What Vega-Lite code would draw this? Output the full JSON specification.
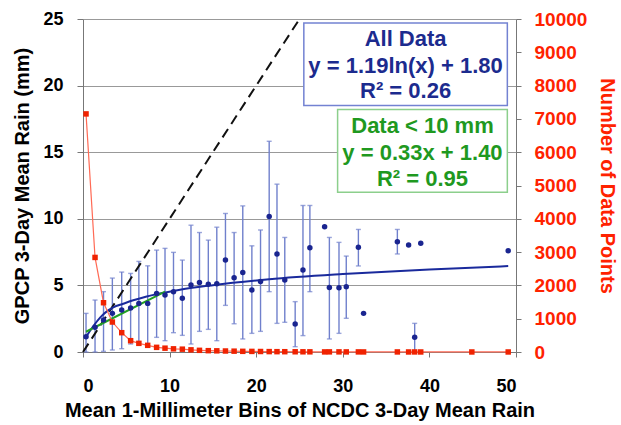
{
  "$schema": "https://vega.github.io/schema/vega-lite/v6.json",
  "width": 433,
  "height": 333,
  "autosize": "none",
  "padding": {"left": 83, "top": 19, "right": 105, "bottom": 73},
  "background": "white",
  "config": {
    "font": "Liberation Sans",
    "view": {"stroke": null},
    "axis": {"labelFontWeight": "bold", "titleFontWeight": "bold", "labelColor": "#000", "titleColor": "#000", "domainColor": "#777", "tickColor": "#777", "labelFont": "Liberation Sans", "titleFont": "Liberation Sans"}
  },
  "datasets": {
    "main": [
      {"x": 0.35, "mean": 1.15, "lo": 0, "hi": 2.9},
      {"x": 1.39, "mean": 1.85, "lo": 0, "hi": 3.9},
      {"x": 2.37, "mean": 2.4, "lo": 0.05, "hi": 4.53},
      {"x": 3.39, "mean": 2.9, "lo": 0.15, "hi": 5.55},
      {"x": 4.47, "mean": 3.15, "lo": 0.25, "hi": 6.0},
      {"x": 5.5, "mean": 3.3, "lo": 0.6, "hi": 5.9},
      {"x": 6.45, "mean": 3.65, "lo": 0.75, "hi": 6.8},
      {"x": 7.47, "mean": 3.65, "lo": 0.45, "hi": 6.47},
      {"x": 8.5, "mean": 4.4, "lo": 1.1, "hi": 7.65},
      {"x": 9.47, "mean": 4.28, "lo": 0.85, "hi": 7.78},
      {"x": 10.45, "mean": 4.53, "lo": 1.45, "hi": 7.48},
      {"x": 11.47, "mean": 4.03, "lo": 1.25, "hi": 6.9},
      {"x": 12.47, "mean": 5.03, "lo": 0.6, "hi": 9.52},
      {"x": 13.45, "mean": 5.22, "lo": 1.55, "hi": 8.97},
      {"x": 14.47, "mean": 5.08, "lo": 1.7, "hi": 8.4},
      {"x": 15.45, "mean": 5.13, "lo": 0.85, "hi": 9.37},
      {"x": 16.45, "mean": 6.9, "lo": 3.5, "hi": 10.4},
      {"x": 17.45, "mean": 5.58, "lo": 2.12, "hi": 8.97},
      {"x": 18.45, "mean": 5.97, "lo": 0.98, "hi": 10.97},
      {"x": 19.5, "mean": 4.65, "lo": 1.4, "hi": 7.97},
      {"x": 20.5, "mean": 5.3, "lo": 1.55, "hi": 9.16},
      {"x": 21.5, "mean": 10.18, "lo": 4.53, "hi": 15.82},
      {"x": 22.4, "mean": 7.36, "lo": 2.15, "hi": 12.6},
      {"x": 23.3, "mean": 5.4, "lo": 2.23, "hi": 8.6},
      {"x": 24.5, "mean": 2.1, "lo": 0.4, "hi": 3.78},
      {"x": 25.4, "mean": 6.15, "lo": 1.23, "hi": 11.0},
      {"x": 26.2, "mean": 7.83, "lo": 4.53, "hi": 11.0},
      {"x": 27.9, "mean": 9.4, "lo": null, "hi": null},
      {"x": 28.45, "mean": 4.85, "lo": 0.98, "hi": 8.6},
      {"x": 29.56, "mean": 4.83, "lo": 1.4, "hi": 8.23},
      {"x": 30.4, "mean": 4.9, "lo": 2.53, "hi": 7.2},
      {"x": 31.8, "mean": 7.86, "lo": 6.46, "hi": 9.2},
      {"x": 32.4, "mean": 2.9, "lo": null, "hi": null},
      {"x": 36.3, "mean": 8.28, "lo": 7.36, "hi": 9.2},
      {"x": 37.6, "mean": 8.03, "lo": null, "hi": null},
      {"x": 38.3, "mean": 1.1, "lo": 0, "hi": 2.15},
      {"x": 39.0, "mean": 8.16, "lo": null, "hi": null},
      {"x": 49.1, "mean": 7.6, "lo": null, "hi": null}
    ],
    "count": [
      {"x": 0.35, "n": 7150}, {"x": 1.39, "n": 2840}, {"x": 2.37, "n": 1480}, {"x": 3.39, "n": 900},
      {"x": 4.47, "n": 580}, {"x": 5.5, "n": 340}, {"x": 6.45, "n": 260}, {"x": 7.47, "n": 200},
      {"x": 8.5, "n": 140}, {"x": 9.47, "n": 115}, {"x": 10.45, "n": 95}, {"x": 11.47, "n": 85},
      {"x": 12.47, "n": 65}, {"x": 13.45, "n": 50}, {"x": 14.47, "n": 40}, {"x": 15.45, "n": 35},
      {"x": 16.45, "n": 30}, {"x": 17.45, "n": 25}, {"x": 18.45, "n": 20}, {"x": 19.5, "n": 18},
      {"x": 20.5, "n": 15}, {"x": 21.5, "n": 12}, {"x": 22.4, "n": 10}, {"x": 23.3, "n": 9},
      {"x": 24.5, "n": 7}, {"x": 25.4, "n": 6}, {"x": 26.2, "n": 5}, {"x": 27.9, "n": 3},
      {"x": 28.45, "n": 4}, {"x": 29.56, "n": 4}, {"x": 30.4, "n": 3}, {"x": 31.8, "n": 3},
      {"x": 32.4, "n": 2}, {"x": 36.3, "n": 2}, {"x": 37.6, "n": 1}, {"x": 38.3, "n": 2},
      {"x": 39.0, "n": 1}, {"x": 44.9, "n": 1}, {"x": 49.1, "n": 1}
    ],
    "fit": [
      {"x": 0.42, "y": 1.2}, {"x": 1.2, "y": 1.95}, {"x": 2.0, "y": 2.6}, {"x": 2.75, "y": 3.05},
      {"x": 3.5, "y": 3.35}, {"x": 4.65, "y": 3.62}, {"x": 5.8, "y": 3.88}, {"x": 7.35, "y": 4.17},
      {"x": 8.9, "y": 4.4}, {"x": 11.2, "y": 4.68}, {"x": 15.0, "y": 5.02}, {"x": 21.5, "y": 5.46},
      {"x": 30.0, "y": 5.85}, {"x": 40.0, "y": 6.2}, {"x": 49.1, "y": 6.45}
    ],
    "lin": [{"x": 0.35, "y": 1.52}, {"x": 9.47, "y": 4.53}],
    "diag": [{"x": 0, "y": 0}, {"x": 25, "y": 25}],
    "boxes": [
      {"x": 25.5, "x2": 49.0, "y": 24.7, "y2": 18.5, "g": "a"},
      {"x": 29.4, "x2": 49.0, "y": 18.2, "y2": 12.0, "g": "b"}
    ],
    "notes": [
      {"x": 37.25, "y": 23.5, "t": "All Data", "g": "a"},
      {"x": 37.25, "y": 21.45, "t": "y = 1.19ln(x) + 1.80", "g": "a"},
      {"x": 37.25, "y": 19.6, "t": "R² = 0.26", "g": "a"},
      {"x": 39.2, "y": 17.0, "t": "Data < 10 mm", "g": "b"},
      {"x": 39.2, "y": 14.95, "t": "y = 0.33x + 1.40", "g": "b"},
      {"x": 39.2, "y": 13.0, "t": "R² = 0.95", "g": "b"}
    ]
  },
  "layer": [
    {
      "layer": [
        {
          "data": {"name": "boxes"},
          "mark": {"type": "rect", "fill": "white", "strokeWidth": 1.5},
          "encoding": {
            "x": {"field": "x", "type": "quantitative", "title": "Mean 1-Millimeter Bins of NCDC 3-Day Mean Rain", "scale": {"domain": [0, 50], "nice": false},
              "axis": {"values": [0, 10, 20, 30, 40, 50], "titleFontSize": 20, "labelFontSize": 18, "tickSize": 5, "labelPadding": 20, "titlePadding": 5, "grid": false}},
            "x2": {"field": "x2"},
            "y": {"field": "y", "type": "quantitative", "title": "GPCP 3-Day Mean Rain (mm)", "scale": {"domain": [0, 25], "nice": false},
              "axis": {"orient": "left", "values": [0, 5, 10, 15, 20, 25], "titleFontSize": 20, "labelFontSize": 18, "tickSize": 6, "labelPadding": 14, "titlePadding": 10, "grid": true, "gridColor": "#999"}},
            "y2": {"field": "y2"},
            "stroke": {"field": "g", "type": "nominal", "scale": {"domain": ["a", "b"], "range": ["#7382d2", "#8ccf8c"]}, "legend": null}
          }
        },
        {
          "data": {"name": "main"},
          "transform": [{"filter": "datum.hi != null"}],
          "mark": {"type": "rule", "color": "#7080cc", "strokeWidth": 1.4},
          "encoding": {
            "x": {"field": "x", "type": "quantitative", "title": "Mean 1-Millimeter Bins of NCDC 3-Day Mean Rain", "scale": {"domain": [0, 50], "nice": false},
              "axis": {"values": [0, 10, 20, 30, 40, 50], "titleFontSize": 20, "labelFontSize": 18, "tickSize": 5, "labelPadding": 20, "titlePadding": 5, "grid": false}},
            "y": {"field": "lo", "type": "quantitative", "title": "GPCP 3-Day Mean Rain (mm)", "scale": {"domain": [0, 25], "nice": false},
              "axis": {"orient": "left", "values": [0, 5, 10, 15, 20, 25], "titleFontSize": 20, "labelFontSize": 18, "tickSize": 6, "labelPadding": 14, "titlePadding": 10, "grid": true, "gridColor": "#999"}},
            "y2": {"field": "hi"}
          }
        },
        {
          "data": {"name": "main"},
          "transform": [{"filter": "datum.hi != null"}],
          "mark": {"type": "tick", "orient": "horizontal", "color": "#7080cc", "size": 5, "thickness": 1.4},
          "encoding": {
            "x": {"field": "x", "type": "quantitative", "title": "Mean 1-Millimeter Bins of NCDC 3-Day Mean Rain", "scale": {"domain": [0, 50], "nice": false},
              "axis": {"values": [0, 10, 20, 30, 40, 50], "titleFontSize": 20, "labelFontSize": 18, "tickSize": 5, "labelPadding": 20, "titlePadding": 5, "grid": false}},
            "y": {"field": "hi", "type": "quantitative", "title": "GPCP 3-Day Mean Rain (mm)", "scale": {"domain": [0, 25], "nice": false},
              "axis": {"orient": "left", "values": [0, 5, 10, 15, 20, 25], "titleFontSize": 20, "labelFontSize": 18, "tickSize": 6, "labelPadding": 14, "titlePadding": 10, "grid": true, "gridColor": "#999"}}
          }
        },
        {
          "data": {"name": "main"},
          "transform": [{"filter": "datum.hi != null"}],
          "mark": {"type": "tick", "orient": "horizontal", "color": "#7080cc", "size": 5, "thickness": 1.4},
          "encoding": {
            "x": {"field": "x", "type": "quantitative", "title": "Mean 1-Millimeter Bins of NCDC 3-Day Mean Rain", "scale": {"domain": [0, 50], "nice": false},
              "axis": {"values": [0, 10, 20, 30, 40, 50], "titleFontSize": 20, "labelFontSize": 18, "tickSize": 5, "labelPadding": 20, "titlePadding": 5, "grid": false}},
            "y": {"field": "lo", "type": "quantitative", "title": "GPCP 3-Day Mean Rain (mm)", "scale": {"domain": [0, 25], "nice": false},
              "axis": {"orient": "left", "values": [0, 5, 10, 15, 20, 25], "titleFontSize": 20, "labelFontSize": 18, "tickSize": 6, "labelPadding": 14, "titlePadding": 10, "grid": true, "gridColor": "#999"}}
          }
        },
        {
          "data": {"name": "diag"},
          "mark": {"type": "line", "color": "#111", "strokeWidth": 2, "strokeDash": [10, 6]},
          "encoding": {
            "x": {"field": "x", "type": "quantitative", "title": "Mean 1-Millimeter Bins of NCDC 3-Day Mean Rain", "scale": {"domain": [0, 50], "nice": false},
              "axis": {"values": [0, 10, 20, 30, 40, 50], "titleFontSize": 20, "labelFontSize": 18, "tickSize": 5, "labelPadding": 20, "titlePadding": 5, "grid": false}},
            "y": {"field": "y", "type": "quantitative", "title": "GPCP 3-Day Mean Rain (mm)", "scale": {"domain": [0, 25], "nice": false},
              "axis": {"orient": "left", "values": [0, 5, 10, 15, 20, 25], "titleFontSize": 20, "labelFontSize": 18, "tickSize": 6, "labelPadding": 14, "titlePadding": 10, "grid": true, "gridColor": "#999"}}
          }
        },
        {
          "data": {"name": "fit"},
          "mark": {"type": "line", "color": "#1a2a9c", "strokeWidth": 2, "interpolate": "monotone"},
          "encoding": {
            "x": {"field": "x", "type": "quantitative", "title": "Mean 1-Millimeter Bins of NCDC 3-Day Mean Rain", "scale": {"domain": [0, 50], "nice": false},
              "axis": {"values": [0, 10, 20, 30, 40, 50], "titleFontSize": 20, "labelFontSize": 18, "tickSize": 5, "labelPadding": 20, "titlePadding": 5, "grid": false}},
            "y": {"field": "y", "type": "quantitative", "title": "GPCP 3-Day Mean Rain (mm)", "scale": {"domain": [0, 25], "nice": false},
              "axis": {"orient": "left", "values": [0, 5, 10, 15, 20, 25], "titleFontSize": 20, "labelFontSize": 18, "tickSize": 6, "labelPadding": 14, "titlePadding": 10, "grid": true, "gridColor": "#999"}}
          }
        },
        {
          "data": {"name": "lin"},
          "mark": {"type": "line", "color": "#22a022", "strokeWidth": 2},
          "encoding": {
            "x": {"field": "x", "type": "quantitative", "title": "Mean 1-Millimeter Bins of NCDC 3-Day Mean Rain", "scale": {"domain": [0, 50], "nice": false},
              "axis": {"values": [0, 10, 20, 30, 40, 50], "titleFontSize": 20, "labelFontSize": 18, "tickSize": 5, "labelPadding": 20, "titlePadding": 5, "grid": false}},
            "y": {"field": "y", "type": "quantitative", "title": "GPCP 3-Day Mean Rain (mm)", "scale": {"domain": [0, 25], "nice": false},
              "axis": {"orient": "left", "values": [0, 5, 10, 15, 20, 25], "titleFontSize": 20, "labelFontSize": 18, "tickSize": 6, "labelPadding": 14, "titlePadding": 10, "grid": true, "gridColor": "#999"}}
          }
        },
        {
          "data": {"name": "main"},
          "mark": {"type": "point", "shape": "circle", "filled": true, "color": "#1a2590", "size": 30, "opacity": 1},
          "encoding": {
            "x": {"field": "x", "type": "quantitative", "title": "Mean 1-Millimeter Bins of NCDC 3-Day Mean Rain", "scale": {"domain": [0, 50], "nice": false},
              "axis": {"values": [0, 10, 20, 30, 40, 50], "titleFontSize": 20, "labelFontSize": 18, "tickSize": 5, "labelPadding": 20, "titlePadding": 5, "grid": false}},
            "y": {"field": "mean", "type": "quantitative", "title": "GPCP 3-Day Mean Rain (mm)", "scale": {"domain": [0, 25], "nice": false},
              "axis": {"orient": "left", "values": [0, 5, 10, 15, 20, 25], "titleFontSize": 20, "labelFontSize": 18, "tickSize": 6, "labelPadding": 14, "titlePadding": 10, "grid": true, "gridColor": "#999"}}
          }
        },
        {
          "data": {"name": "notes"},
          "mark": {"type": "text", "fontSize": 22, "fontWeight": "bold", "align": "center", "baseline": "middle"},
          "encoding": {
            "x": {"field": "x", "type": "quantitative", "title": "Mean 1-Millimeter Bins of NCDC 3-Day Mean Rain", "scale": {"domain": [0, 50], "nice": false},
              "axis": {"values": [0, 10, 20, 30, 40, 50], "titleFontSize": 20, "labelFontSize": 18, "tickSize": 5, "labelPadding": 20, "titlePadding": 5, "grid": false}},
            "y": {"field": "y", "type": "quantitative", "title": "GPCP 3-Day Mean Rain (mm)", "scale": {"domain": [0, 25], "nice": false},
              "axis": {"orient": "left", "values": [0, 5, 10, 15, 20, 25], "titleFontSize": 20, "labelFontSize": 18, "tickSize": 6, "labelPadding": 14, "titlePadding": 10, "grid": true, "gridColor": "#999"}},
            "text": {"field": "t"},
            "color": {"field": "g", "type": "nominal", "scale": {"domain": ["a", "b"], "range": ["#1c2b8e", "#1f991f"]}, "legend": null}
          }
        }
      ]
    },
    {
      "data": {"name": "count"},
      "layer": [
        {
          "mark": {"type": "line", "color": "#ff6a55", "strokeWidth": 1.2},
          "encoding": {
            "x": {"field": "x", "type": "quantitative", "title": "Mean 1-Millimeter Bins of NCDC 3-Day Mean Rain", "scale": {"domain": [0, 50], "nice": false},
              "axis": {"values": [0, 10, 20, 30, 40, 50], "titleFontSize": 20, "labelFontSize": 18, "tickSize": 5, "labelPadding": 20, "titlePadding": 5, "grid": false}},
            "y": {"field": "n", "type": "quantitative", "title": "Number of Data Points", "scale": {"domain": [0, 10000], "nice": false},
              "axis": {"orient": "right", "values": [0, 1000, 2000, 3000, 4000, 5000, 6000, 7000, 8000, 9000, 10000], "format": "d", "titleFontSize": 20, "labelFontSize": 19, "labelColor": "#ff2200", "titleColor": "#ff2200", "tickSize": 5, "labelPadding": 13, "titlePadding": 10, "grid": false}}
          }
        },
        {
          "mark": {"type": "point", "shape": "square", "filled": true, "color": "#f02200", "size": 30, "opacity": 1},
          "encoding": {
            "x": {"field": "x", "type": "quantitative", "title": "Mean 1-Millimeter Bins of NCDC 3-Day Mean Rain", "scale": {"domain": [0, 50], "nice": false},
              "axis": {"values": [0, 10, 20, 30, 40, 50], "titleFontSize": 20, "labelFontSize": 18, "tickSize": 5, "labelPadding": 20, "titlePadding": 5, "grid": false}},
            "y": {"field": "n", "type": "quantitative", "title": "Number of Data Points", "scale": {"domain": [0, 10000], "nice": false},
              "axis": {"orient": "right", "values": [0, 1000, 2000, 3000, 4000, 5000, 6000, 7000, 8000, 9000, 10000], "format": "d", "titleFontSize": 20, "labelFontSize": 19, "labelColor": "#ff2200", "titleColor": "#ff2200", "tickSize": 5, "labelPadding": 13, "titlePadding": 10, "grid": false}}
          }
        }
      ]
    }
  ],
  "resolve": {"scale": {"y": "independent"}}
}
